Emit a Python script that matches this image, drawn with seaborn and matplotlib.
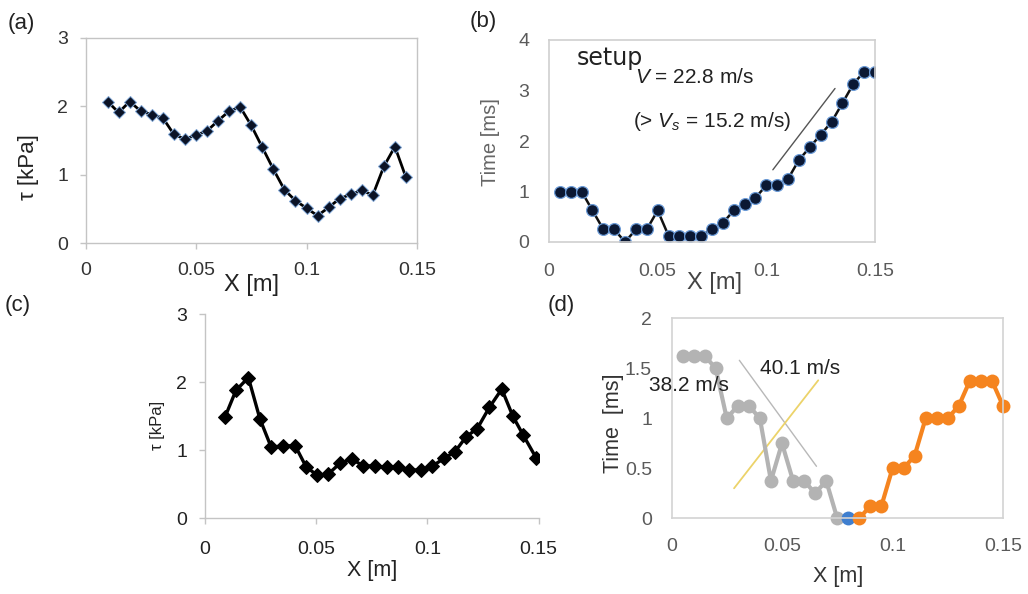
import numpy as np
import pandas as pd
import matplotlib
matplotlib.use("Agg")
import matplotlib.pyplot as plt
import seaborn as sns

# ---------------- data ----------------
# (a) shear stress profile
a_x = [0.010, 0.015, 0.020, 0.025, 0.030, 0.035, 0.040, 0.045, 0.050, 0.055,
       0.060, 0.065, 0.070, 0.075, 0.080, 0.085, 0.090, 0.095, 0.100, 0.105,
       0.110, 0.115, 0.120, 0.125, 0.130, 0.135, 0.140, 0.145]
a_tau = [2.07, 1.91, 2.07, 1.93, 1.88, 1.83, 1.59, 1.52, 1.58, 1.64,
         1.79, 1.93, 1.99, 1.72, 1.40, 1.08, 0.78, 0.62, 0.51, 0.40,
         0.52, 0.65, 0.71, 0.77, 0.70, 1.12, 1.41, 0.96]

# (b) arrival time
b_x = [0.005, 0.010, 0.015, 0.020, 0.025, 0.030, 0.035, 0.040, 0.045, 0.050,
       0.055, 0.060, 0.065, 0.070, 0.075, 0.080, 0.085, 0.090, 0.095, 0.100,
       0.105, 0.110, 0.115, 0.120, 0.125, 0.130, 0.135, 0.140, 0.145, 0.150]
b_time = [1.00, 1.00, 1.00, 0.625, 0.25, 0.25, 0.0, 0.25, 0.25, 0.625,
          0.125, 0.125, 0.125, 0.125, 0.25, 0.375, 0.625, 0.75, 0.875, 1.125,
          1.125, 1.25, 1.625, 1.875, 2.125, 2.375, 2.75, 3.125, 3.375, 3.375]
b_fit_x = [0.103, 0.1316]
b_fit_y = [1.43, 3.04]

# (c) shear stress profile
c_x = [0.0090, 0.0139, 0.0195, 0.0247, 0.0297, 0.0349, 0.0405, 0.0454, 0.0505, 0.0554,
       0.0607, 0.0660, 0.0712, 0.0764, 0.0817, 0.0869, 0.0919, 0.0970, 0.1022, 0.1075,
       0.1124, 0.1174, 0.1224, 0.1278, 0.1334, 0.1384, 0.1431, 0.1490]
c_tau = [1.49, 1.88, 2.07, 1.46, 1.05, 1.06, 1.07, 0.76, 0.63, 0.65,
         0.81, 0.87, 0.77, 0.77, 0.75, 0.75, 0.71, 0.71, 0.77, 0.88,
         0.98, 1.20, 1.32, 1.63, 1.90, 1.50, 1.22, 0.88]

# (d) arrival time, three groups
d_gray_x = [0.005, 0.010, 0.015, 0.020, 0.025, 0.030, 0.035, 0.040, 0.045, 0.050,
            0.055, 0.060, 0.065, 0.070, 0.075]
d_gray_t = [1.625, 1.625, 1.625, 1.5, 1.0, 1.125, 1.125, 1.0, 0.375, 0.75,
            0.375, 0.375, 0.25, 0.375, 0.0]
d_blue_x = [0.080]
d_blue_t = [0.0]
d_orange_x = [0.085, 0.090, 0.095, 0.100, 0.105, 0.110, 0.115, 0.120, 0.125, 0.130,
              0.135, 0.140, 0.145, 0.150]
d_orange_t = [0.0, 0.125, 0.125, 0.5, 0.5, 0.625, 1.0, 1.0, 1.0, 1.125,
              1.375, 1.375, 1.375, 1.125]
d_fit1_x = [0.0307, 0.0656]
d_fit1_y = [1.58, 0.52]
d_fit2_x = [0.0283, 0.0664]
d_fit2_y = [0.30, 1.38]

x_ticks = [0, 0.05, 0.1, 0.15]
x_ticklabels = ["0", "0.05", "0.1", "0.15"]
tau_ticks = [0, 1, 2, 3]
b_ticks = [0, 1, 2, 3, 4]
d_ticks = [0, 0.5, 1, 1.5, 2]
d_ticklabels = ["0", "0.5", "1", "1.5", "2"]

# ---------------- style ----------------
sns.set_style("white")
plt.rcParams["font.family"] = ["Liberation Sans", "DejaVu Sans"]
plt.rcParams["mathtext.fontset"] = "custom"
plt.rcParams["mathtext.rm"] = "Liberation Sans"
plt.rcParams["mathtext.it"] = "Liberation Sans:italic"

W, H = 1028, 594
fig = plt.figure(figsize=(W / 100, H / 100), dpi=100)


def axes_px(left, right, top, bottom):
    return fig.add_axes([left / W, 1 - bottom / H, (right - left) / W, (bottom - top) / H])


axA = axes_px(85.5, 417, 38, 243)
axB = axes_px(549, 875, 40, 242)
axC = axes_px(205, 538.7, 314.3, 518.3)
axD = axes_px(671.5, 1003, 318.3, 518.3)

spine_col = "#c4c4c4"

# ---- (a) ----
sns.lineplot(x=a_x, y=a_tau, ax=axA, color="black", linewidth=2.0, marker="D",
             markersize=6, markerfacecolor="#0b1326", markeredgecolor="#7fa6d6",
             markeredgewidth=0.7)
axA.set_xlim(0, 0.15)
axA.set_ylim(0, 3)
axA.set_xticks(x_ticks)
axA.set_xticklabels(x_ticklabels)
axA.set_yticks(tau_ticks)
for s in axA.spines.values():
    s.set_color(spine_col)
    s.set_linewidth(1)
axA.tick_params(axis="both", which="both", direction="out", length=4, width=1,
                color=spine_col, labelsize=14, labelcolor="#333333")
axA.tick_params(axis="x", pad=10, bottom=True)
axA.tick_params(axis="y", pad=8.5, left=True)
axA.set_xlabel("X [m]", fontsize=17, color="#222222", va="center")
axA.xaxis.set_label_coords(0.5, -0.205)
axA.set_ylabel("τ [kPa]", fontsize=16, color="#222222", va="center")
axA.yaxis.set_label_coords(-0.172, 0.372)

# ---- (b) ----
sns.lineplot(x=b_x, y=b_time, ax=axB, color="#111111", linewidth=1.8, marker="o",
             markersize=8.5, markerfacecolor="#0b1833", markeredgecolor="#6a9ad6",
             markeredgewidth=0.9)
axB.plot(b_fit_x, b_fit_y, color="#555555", linewidth=1.0)
axB.set_xlim(0, 0.15)
axB.set_ylim(0, 4)
axB.set_xticks(x_ticks)
axB.set_xticklabels(x_ticklabels)
axB.set_yticks(b_ticks)
for s in axB.spines.values():
    s.set_color("#cfcfcf")
    s.set_linewidth(1.2)
axB.tick_params(axis="both", length=0, labelsize=14, labelcolor="#5a5a5a")
axB.tick_params(axis="x", pad=15)
axB.tick_params(axis="y", pad=14)
axB.set_xlabel("X [m]", fontsize=17, color="#444444", va="center")
axB.xaxis.set_label_coords(0.509, -0.205)
axB.set_ylabel("Time [ms]", fontsize=14.5, color="#666666", va="center")
axB.yaxis.set_label_coords(-0.178, 0.497)
axB.text(0.086, 0.876, "setup", transform=axB.transAxes, fontsize=17,
         family="DejaVu Sans", color="#222222", va="baseline")
axB.text(0.264, 0.786, r"$V$ = 22.8 m/s", transform=axB.transAxes, fontsize=15,
         color="#222222", va="baseline")
axB.text(0.259, 0.571, r"(> $V_s$ = 15.2 m/s)", transform=axB.transAxes, fontsize=15,
         color="#222222", va="baseline")

# ---- (c) ----
sns.lineplot(x=c_x, y=c_tau, ax=axC, color="black", linewidth=2.4, marker="D",
             markersize=7, markerfacecolor="black", markeredgecolor="black")
axC.set_xlim(0, 0.15)
axC.set_ylim(0, 3)
axC.set_xticks(x_ticks)
axC.set_xticklabels(x_ticklabels)
axC.set_yticks(tau_ticks)
axC.spines["top"].set_visible(False)
axC.spines["right"].set_visible(False)
for k in ["left", "bottom"]:
    axC.spines[k].set_color(spine_col)
    axC.spines[k].set_linewidth(1)
axC.tick_params(axis="both", direction="out", length=4, width=1, color=spine_col,
                labelsize=14, labelcolor="#222222")
axC.tick_params(axis="x", pad=12, bottom=True)
axC.tick_params(axis="y", pad=9, left=True)
axC.set_xlabel("X [m]", fontsize=15.5, color="#222222", va="center")
axC.xaxis.set_label_coords(0.5, -0.258)
axC.set_ylabel("τ [kPa]", fontsize=12, color="#222222", va="center")
axC.yaxis.set_label_coords(-0.141, 0.457)

# ---- (d) ----
axD.plot(d_fit1_x, d_fit1_y, color="#b8b8b8", linewidth=1.0)
axD.plot(d_fit2_x, d_fit2_y, color="#ecd36a", linewidth=1.3)
sns.lineplot(x=d_gray_x, y=d_gray_t, ax=axD, color="#b3b3b3", linewidth=3, marker="o",
             markersize=10, markeredgewidth=0)
sns.lineplot(x=d_blue_x, y=d_blue_t, ax=axD, color="#3f7fcf", linewidth=3, marker="o",
             markersize=10, markeredgewidth=0)
sns.lineplot(x=d_orange_x, y=d_orange_t, ax=axD, color="#f5841f", linewidth=3, marker="o",
             markersize=10, markeredgewidth=0)
for ln in axD.lines:
    ln.set_clip_on(False)
axD.set_xlim(0, 0.15)
axD.set_ylim(0, 2)
axD.set_xticks(x_ticks)
axD.set_xticklabels(x_ticklabels)
axD.set_yticks(d_ticks)
axD.set_yticklabels(d_ticklabels)
for s in axD.spines.values():
    s.set_color("#d3d3d3")
    s.set_linewidth(1.2)
axD.tick_params(axis="both", length=0, labelsize=14, labelcolor="#5a5a5a")
axD.tick_params(axis="x", pad=14.5)
axD.tick_params(axis="y", pad=14)
axD.set_xlabel("X [m]", fontsize=15.5, color="#333333", va="center")
axD.xaxis.set_label_coords(0.502, -0.293)
axD.set_ylabel("Time  [ms]", fontsize=15.5, color="#333333", va="center")
axD.yaxis.set_label_coords(-0.176, 0.477)
axD.text(0.267, 0.72, "40.1 m/s", transform=axD.transAxes, fontsize=15,
         color="#222222", va="baseline")
axD.text(-0.068, 0.637, "38.2 m/s", transform=axD.transAxes, fontsize=15,
         color="#222222", va="baseline")

# panel letters
fig.text(8 / W, 1 - 23 / H, "(a)", fontsize=16, va="center", ha="left", color="#222222")
fig.text(470 / W, 1 - 22 / H, "(b)", fontsize=16, va="center", ha="left", color="#222222")
fig.text(5 / W, 1 - 306 / H, "(c)", fontsize=16, va="center", ha="left", color="#222222")
fig.text(548 / W, 1 - 305 / H, "(d)", fontsize=16, va="center", ha="left", color="#222222")

fig.savefig("out.png", dpi=100)
